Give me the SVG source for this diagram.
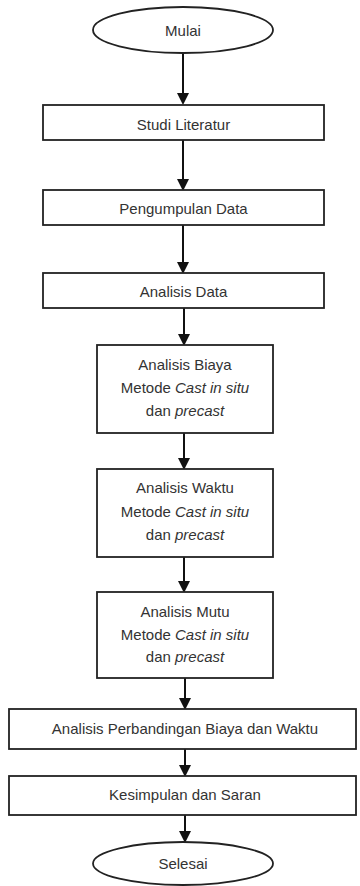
<svg xmlns="http://www.w3.org/2000/svg" width="360" height="886" viewBox="0 0 360 886">
<defs>
<style>
.n{fill:#fff;stroke:#222;stroke-width:1.8}
.t{font-family:"Liberation Sans",Arial,sans-serif;font-size:15px;fill:#333;text-anchor:middle}
.i{font-style:italic}
.c{stroke:#111;stroke-width:2;fill:none;marker-end:url(#ah)}
</style>
<marker id="ah" markerWidth="6" markerHeight="6" refX="5" refY="3" orient="auto" markerUnits="strokeWidth">
<path d="M0,0 L6,3 L0,6 z" fill="#111"/>
</marker>
</defs>
<rect width="360" height="886" fill="#fff"/>
<g id="connectors">
<line class="c" x1="183" y1="53" x2="183" y2="103"/>
<line class="c" x1="183" y1="140" x2="183" y2="189"/>
<line class="c" x1="183" y1="225" x2="183" y2="272"/>
<line class="c" x1="184" y1="308" x2="184" y2="344"/>
<line class="c" x1="184" y1="433" x2="184" y2="468"/>
<line class="c" x1="184" y1="557" x2="184" y2="591"/>
<line class="c" x1="185" y1="678" x2="185" y2="708"/>
<line class="c" x1="185" y1="749" x2="185" y2="775"/>
<line class="c" x1="185" y1="815" x2="185" y2="841"/>
</g>
<g id="mulai">
<ellipse class="n" cx="183" cy="30" rx="90" ry="23"/>
<text class="t" x="183" y="36">Mulai</text>
</g>
<g id="studi">
<rect class="n" x="43" y="105" width="281" height="35"/>
<text class="t" x="183.5" y="130">Studi Literatur</text>
</g>
<g id="pengumpulan">
<rect class="n" x="43" y="190" width="281" height="35"/>
<text class="t" x="183.5" y="214">Pengumpulan Data</text>
</g>
<g id="analisis-data">
<rect class="n" x="43" y="273" width="281" height="35"/>
<text class="t" x="183.5" y="297">Analisis Data</text>
</g>
<g id="biaya">
<rect class="n" x="97" y="345" width="176" height="88"/>
<text class="t" x="185" y="370">Analisis Biaya</text>
<text class="t" x="185" y="393">Metode <tspan class="i">Cast in situ</tspan></text>
<text class="t" x="185" y="416">dan <tspan class="i">precast</tspan></text>
</g>
<g id="waktu">
<rect class="n" x="97" y="469" width="176" height="88"/>
<text class="t" x="185" y="493">Analisis Waktu</text>
<text class="t" x="185" y="517">Metode <tspan class="i">Cast in situ</tspan></text>
<text class="t" x="185" y="540">dan <tspan class="i">precast</tspan></text>
</g>
<g id="mutu">
<rect class="n" x="97" y="592" width="176" height="86"/>
<text class="t" x="185" y="617">Analisis Mutu</text>
<text class="t" x="185" y="640">Metode <tspan class="i">Cast in situ</tspan></text>
<text class="t" x="185" y="662">dan <tspan class="i">precast</tspan></text>
</g>
<g id="perbandingan">
<rect class="n" x="9" y="709" width="347" height="40"/>
<text class="t" x="185" y="734">Analisis Perbandingan Biaya dan Waktu</text>
</g>
<g id="kesimpulan">
<rect class="n" x="9" y="776" width="347" height="39"/>
<text class="t" x="185" y="800">Kesimpulan dan Saran</text>
</g>
<g id="selesai">
<ellipse class="n" cx="183" cy="863.5" rx="90" ry="21.5"/>
<text class="t" x="183" y="869">Selesai</text>
</g>
</svg>
